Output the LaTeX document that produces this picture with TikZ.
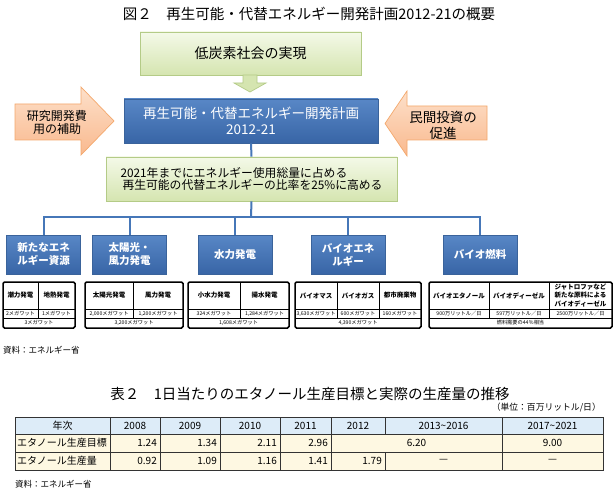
\documentclass[tikz,border=0pt]{standalone}
\usepackage{fontspec}
\setmainfont{Noto Sans CJK JP}
\usetikzlibrary{shadows}

\definecolor{gtop}{HTML}{F4F9E8}
\definecolor{gbot}{HTML}{D5E5B0}
\definecolor{gline}{HTML}{B4CB87}
\definecolor{btop}{HTML}{5887C6}
\definecolor{bbot}{HTML}{3865A6}
\definecolor{bline}{HTML}{3A639B}
\definecolor{otop}{HTML}{FDE0CA}
\definecolor{obot}{HTML}{F9B98E}
\definecolor{oline}{HTML}{F4A86C}
\definecolor{treeline}{HTML}{4677B8}
\definecolor{headfill}{HTML}{DDECF8}
\definecolor{datafill}{HTML}{FEF8E2}

\tikzset{
  softshadow/.style={drop shadow={opacity=0.25, shadow xshift=0.8pt, shadow yshift=-1.2pt}},
  greenbox/.style={draw=gline, line width=0.7pt, top color=gtop, bottom color=gbot, softshadow},
  bluebox/.style={draw=bline, line width=0.7pt, top color=btop, bottom color=bbot, text=white, align=center, softshadow},
  smallbox/.style={bluebox, minimum width=74pt, minimum height=39pt, font=\fontsize{10.5}{13}\selectfont\bfseries},
  blockarrow/.style={draw=oline, line width=0.7pt, top color=otop, bottom color=obot},
  downarrow/.style={draw=gline, fill=gbot, line width=0.7pt},
  tree/.style={draw=treeline, line width=2pt},
  tblframe/.style={draw=black, line width=1.5pt, rounded corners=1.5pt},
  tblline/.style={draw=black, line width=0.8pt},
  thead/.style={font=\fontsize{6.5}{8.5}\selectfont\bfseries, align=center},
  tcell/.style={font=\fontsize{5.2}{6}\selectfont},
  grid/.style={draw=black!80, line width=0.7pt},
  yearcell/.style={font=\fontsize{10}{11}\selectfont},
  note/.style={font=\fontsize{8.5}{10}\selectfont, anchor=west},
}

\begin{document}
\begin{tikzpicture}[x=1pt, y=-1pt, every node/.style={inner sep=0pt}]
    \useasboundingbox[fill=white] (0,0) rectangle (616,492);

    % figure 2
    \node[font=\fontsize{14.5}{16}\selectfont] (title) at (309,14) {図２　再生可能・代替エネルギー開発計画2012-21の概要};
    \node[greenbox, minimum width=221pt, minimum height=43pt, font=\fontsize{14}{16}\selectfont] (aim) at (250.5,53.5) {低炭素社会の実現};
    \node[bluebox, minimum width=254pt, minimum height=44pt, font=\fontsize{13.5}{16}\selectfont] (plan) at (251,121) {再生可能・代替エネルギー開発計画\\2012-21};
    \node[greenbox, minimum width=291pt, minimum height=44pt, align=left, font=\fontsize{11.8}{12.5}\selectfont] (target) at (251.5,179) {2021年までにエネルギー使用総量に占める\\\hspace{2pt}再生可能の代替エネルギーの比率を25\%に高める};

    \draw[downarrow] (243,75) -- (257,75) -- (257,83) -- (266,83) -- (250,92) -- (234,83) -- (243,83) -- cycle;
    \draw[blockarrow] (15,104) -- (81,104) -- (81,87) -- (114,121) -- (81,155) -- (81,140) -- (15,140) -- cycle;
    \draw[blockarrow] (487,106) -- (407,106) -- (407,91) -- (385,123.5) -- (407,156) -- (407,140) -- (487,140) -- cycle;
    \node[align=center, font=\fontsize{12}{13}\selectfont] (subsidy) at (57,122) {研究開発費\\用の補助};
    \node[align=center, font=\fontsize{13.5}{16}\selectfont] (invest) at (443,125) {民間投資の\\促進};

    \node[smallbox] (new) at (43.5,254.5) {新たなエネ\\ルギー資源};
    \node[smallbox] (solar) at (129.5,254.5) {太陽光・\\風力発電};
    \node[smallbox] (hydro) at (235,254.5) {水力発電};
    \node[smallbox] (bioen) at (348,254.5) {バイオエネ\\ルギー};
    \node[smallbox] (biofuel) at (480,254.5) {バイオ燃料};

    \coordinate (fork) at (251,217);
    \draw[tree] (plan.south) -- (target.north);
    \draw[tree] (target.south) -- (fork);
    \foreach \b in {new,solar,hydro,bioen,biofuel}
        \draw[tree] (fork) -| (\b.north);

    % table 1
    \draw[tblline] (3,309) -- (75,309) (3,318) -- (75,318) (38,282) -- (38,318);
    \draw[tblframe] (3,282) rectangle (75,328);
    \node[thead] (t1a) at (20.5,295.5) {潮力発電};
    \node[thead] (t1b) at (56.5,295.5) {地熱発電};
    \node[tcell] (t1c) at (20.5,313.5) {2メガワット};
    \node[tcell] (t1d) at (56.5,313.5) {1メガワット};
    \node[tcell] (t1e) at (39,323) {3メガワット};

    % table 2
    \draw[tblline] (85,309) -- (183,309) (85,318) -- (183,318) (133,282) -- (133,318);
    \draw[tblframe] (85,282) rectangle (183,328);
    \node[thead] (t2a) at (109,295.5) {太陽光発電};
    \node[thead] (t2b) at (158,295.5) {風力発電};
    \node[tcell] (t2c) at (109,313.5) {2,000メガワット};
    \node[tcell] (t2d) at (158,313.5) {1,200メガワット};
    \node[tcell] (t2e) at (134,323) {3,200メガワット};

    % table 3
    \draw[tblline] (188,309) -- (289,309) (188,318) -- (289,318) (240,282) -- (240,318);
    \draw[tblframe] (188,282) rectangle (289,328);
    \node[thead] (t3a) at (214,295.5) {小水力発電};
    \node[thead] (t3b) at (264.5,295.5) {揚水発電};
    \node[tcell] (t3c) at (214,313.5) {324メガワット};
    \node[tcell] (t3d) at (264.5,313.5) {1,284メガワット};
    \node[tcell] (t3e) at (238.5,323) {1,608メガワット};

    % table 4
    \draw[tblline] (295,309) -- (421,309) (295,318) -- (421,318) (337,282) -- (337,318) (379,282) -- (379,318);
    \draw[tblframe] (295,282) rectangle (421,328);
    \node[thead] (t4a) at (316,295.5) {バイオマス};
    \node[thead] (t4b) at (358,295.5) {バイオガス};
    \node[thead] (t4c) at (400,295.5) {都市廃棄物};
    \node[tcell] (t4d) at (316,313.5) {3,630メガワット};
    \node[tcell] (t4e) at (358,313.5) {600メガワット};
    \node[tcell] (t4f) at (400,313.5) {160メガワット};
    \node[tcell] (t4g) at (358,323) {4,390メガワット};

    % table 5
    \draw[tblline] (429,309) -- (612,309) (429,318) -- (612,318) (489,282) -- (489,318) (549,282) -- (549,318);
    \draw[tblframe] (429,282) rectangle (612,328);
    \node[thead] (t5a) at (459,295.5) {バイオエタノール};
    \node[thead] (t5b) at (519,295.5) {バイオディーゼル};
    \node[thead] (t5c) at (580.5,295.5) {ジャトロファなど\\新たな原料による\\バイオディーゼル};
    \node[tcell] (t5d) at (459,313.5) {900万リットル／日};
    \node[tcell] (t5e) at (519,313.5) {597万リットル／日};
    \node[tcell] (t5f) at (580.5,313.5) {2500万リットル／日};
    \node[tcell] (t5g) at (520.5,323) {燃料需要の44％相当};

    \node[note] (src1) at (3,350) {資料：エネルギー省};

    % table 2 (ethanol)
    \node[font=\fontsize{14.5}{16}\selectfont] (title2) at (310,394) {表２　1日当たりのエタノール生産目標と実際の生産量の推移};
    \node[font=\fontsize{8.8}{10}\selectfont, anchor=east] (unit) at (601,408) {（単位：百万リットル/日）};

    \fill[headfill] (15,417) rectangle (603,434);
    \fill[datafill] (15,434) rectangle (603,470);
    \draw[grid] (15,434) -- (603,434) (15,452) -- (603,452);
    \foreach \x in {110,160,220,280,331,502}
        \draw[grid] (\x,417) -- (\x,470);
    \draw[grid] (385,417) -- (385,434) (385,452) -- (385,470);
    \draw[grid] (15,417) rectangle (603,470);

    \foreach \x/\t [count=\i] in {62.5/年次, 135/2008, 190/2009, 250/2010, 305.5/2011, 358/2012, 443.5/2013{\textasciitilde}2016, 552.5/2017{\textasciitilde}2021}
        \node[yearcell] (yr\i) at (\x,425.5) {\t};

    \node[yearcell, anchor=west] (goallbl) at (17,443) {エタノール生産目標};
    \foreach \x/\v [count=\i] in {157/1.24, 217/1.34, 277/2.11, 328/2.96}
        \node[yearcell, anchor=east] (goal\i) at (\x,443) {\v};
    \node[yearcell] (goal5) at (416.5,443) {6.20};
    \node[yearcell] (goal6) at (552.5,443) {9.00};

    \node[yearcell, anchor=west] (outlbl) at (17,461) {エタノール生産量};
    \foreach \x/\v [count=\i] in {157/0.92, 217/1.09, 277/1.16, 328/1.41, 382/1.79}
        \node[yearcell, anchor=east] (out\i) at (\x,461) {\v};
    \node[yearcell] (out6) at (443.5,461) {—};
    \node[yearcell] (out7) at (552.5,461) {—};

    \node[note] (src2) at (15,484) {資料：エネルギー省};
\end{tikzpicture}
\end{document}
